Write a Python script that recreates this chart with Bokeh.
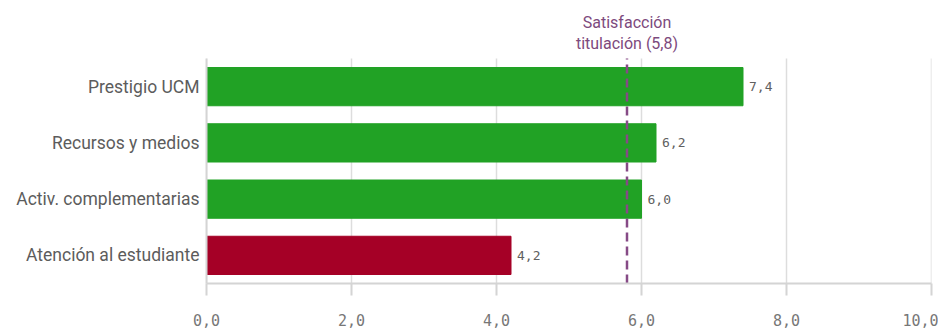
from bokeh.plotting import figure
from bokeh.models import ColumnDataSource, FixedTicker, LabelSet
from bokeh.core.properties import value
from bokeh.embed import file_html
from bokeh.resources import INLINE

categories = ["Prestigio UCM", "Recursos y medios", "Activ. complementarias", "Atención al estudiante"]
values = [7.4, 6.2, 6.0, 4.2]
colors = ["#21a225", "#21a225", "#21a225", "#a50026"]
reference_value = 5.8
reference_label = ["Satisfacción", "titulación (5,8)"]
x_ticks = [0, 2, 4, 6, 8, 10]

n = len(categories)
ypos = [n - 1 - i for i in range(n)]  # top to bottom
value_text = [f"{v:.1f}".replace(".", ",") for v in values]
src = ColumnDataSource(dict(y=ypos, val=values, color=colors, txt=value_text))

y_lo, y_hi = -0.5, n - 0.5
p = figure(x_range=(0, 10), y_range=(y_lo, n + 0.3),
           frame_width=725, frame_height=270, width=938, height=324,
           min_border_left=206, min_border_right=7, min_border_top=13, min_border_bottom=41,
           output_backend="svg", toolbar_location=None)
p.outline_line_color = None
p.background_fill_color = "white"
p.xgrid.grid_line_color = None
p.ygrid.grid_line_color = None

# vertical grid lines limited to the bar area
p.segment(x0=x_ticks, y0=[y_lo] * len(x_ticks), x1=x_ticks, y1=[y_hi] * len(x_ticks),
          line_color="#dddddd", line_width=1.5)

p.hbar(y="y", left=0, right="val", height=0.68, color="color", source=src)

labels = LabelSet(x="val", y="y", text="txt", source=src, x_offset=6, text_baseline="middle",
                  text_font=value("DejaVu Sans Mono"), text_font_size="13px", text_color="#606060")
p.add_layout(labels)

p.segment(x0=[reference_value], y0=[y_lo], x1=[reference_value], y1=[y_hi],
          line_color="#864a86", line_width=2.5, line_dash="9 5")

p.text(x=[reference_value, reference_value], y=[y_hi + 0.64, y_hi + 0.27], text=reference_label,
       text_align="center", text_baseline="middle", text_font=value("Roboto"),
       text_font_size="16px", text_color="#7d4a7d")

p.xaxis.ticker = FixedTicker(ticks=x_ticks)
p.xaxis.major_label_overrides = {t: f"{t:.1f}".replace(".", ",") for t in x_ticks}
p.xaxis.major_label_text_font = "DejaVu Sans Mono"
p.xaxis.major_label_text_font_size = "15px"
p.xaxis.major_label_text_color = "#777777"
p.xaxis.axis_line_color = "#d4d4d4"
p.xaxis.axis_line_width = 2
p.xaxis.major_tick_line_color = "#d4d4d4"
p.xaxis.major_tick_line_width = 2
p.xaxis.major_tick_out = 12
p.xaxis.major_tick_in = 0
p.xaxis.minor_tick_line_color = None
p.xaxis.major_label_standoff = 18

p.yaxis.ticker = FixedTicker(ticks=ypos)
p.yaxis.major_label_overrides = {y: c for y, c in zip(ypos, categories)}
p.yaxis.bounds = (y_lo, y_hi)
p.yaxis.axis_line_color = "#d4d4d4"
p.yaxis.axis_line_width = 2
p.yaxis.major_tick_line_color = None
p.yaxis.minor_tick_line_color = None
p.yaxis.major_label_text_font = "Roboto"
p.yaxis.major_label_text_font_size = "17.5px"
p.yaxis.major_label_text_color = "#5c5c5c"
p.yaxis.major_label_standoff = 1

open("out.html", "w").write(file_html(p, INLINE))
